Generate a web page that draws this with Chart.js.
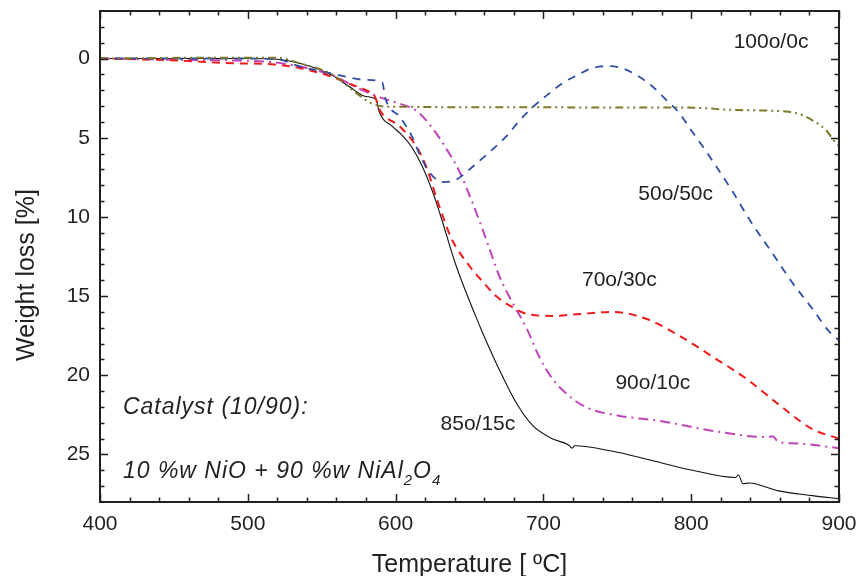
<!DOCTYPE html>
<html>
<head>
<meta charset="utf-8">
<title>TGA weight loss</title>
<script src="https://cdn.jsdelivr.net/npm/chart.js@4.4.0/dist/chart.umd.min.js"></script>
<style>
  html, body { margin: 0; padding: 0; background: #fff; }
  #wrap { width: 859px; height: 576px; }
</style>
</head>
<body>
<div id="wrap"><canvas id="tgaChart" width="859" height="576"></canvas></div>
<script>
'use strict';

// axis ticks
var tempTicks = [400, 500, 600, 700, 800, 900];
var lossTicks = [0, 5, 10, 15, 20, 25];

// 85o/15c
var temp85 = [400, 450, 500, 520, 535, 557, 569, 580, 587, 588.5, 598, 604, 611, 618, 625, 630, 641, 657, 664, 672, 682, 693, 706, 717, 719.5, 721, 747, 770, 801, 830, 832, 835, 839, 859, 882, 900];
var loss85 = [0, 0, 0, 0.05, 0.3, 1.05, 1.8, 2.4, 2.6, 3.25, 4.3, 4.8, 5.6, 6.8, 8.4, 9.8, 13.1, 16.9, 18.4, 20.0, 21.8, 23.2, 24.0, 24.4, 24.6, 24.45, 24.8, 25.3, 26.0, 26.45, 26.3, 26.85, 26.8, 27.3, 27.6, 27.8];

// 70o/30c
var temp70 = [400, 445, 490, 513, 535, 557, 569, 580, 586, 589, 603, 614, 621, 628, 638, 650, 659, 668, 679, 690, 706, 722, 747, 770, 792, 814, 837, 860, 882, 900];
var loss70 = [0, 0.1, 0.3, 0.35, 0.6, 1.15, 1.6, 2.0, 2.4, 3.2, 4.3, 5.55, 6.9, 8.9, 11.4, 13.1, 14.1, 15.0, 15.7, 16.15, 16.25, 16.15, 16.0, 16.45, 17.5, 18.8, 20.2, 21.9, 23.4, 24.0];

// 50o/50c
var temp50 = [400, 450, 500, 520, 535, 557, 580, 591, 593, 603, 611, 616, 623, 632, 641, 650, 663, 675, 684, 693, 704, 713, 724, 733, 745, 753, 763, 773, 783, 792, 799, 807, 814, 828, 841, 855, 868, 882, 893, 900];
var loss50 = [0, 0, 0, 0.05, 0.5, 0.95, 1.35, 1.5, 2.5, 3.7, 4.9, 6.0, 7.2, 7.8, 7.65, 7.0, 5.95, 4.9, 3.9, 3.05, 2.2, 1.55, 1.0, 0.6, 0.48, 0.6, 1.05, 1.7, 2.6, 3.45, 4.4, 5.45, 6.4, 8.4, 10.4, 12.3, 14.1, 15.8, 17.2, 17.8];

// 90o/10c
var temp90 = [400, 468, 513, 535, 557, 574, 591, 601, 614, 625, 635, 643, 652, 662, 670, 679, 689, 697, 706, 720, 731, 751, 780, 814, 851, 855, 859, 871, 900];
var loss90 = [0, 0.1, 0.2, 0.5, 1.05, 1.85, 2.5, 2.8, 3.3, 4.4, 5.8, 7.1, 9.1, 11.6, 13.7, 15.4, 17.1, 18.8, 20.2, 21.5, 22.1, 22.55, 22.9, 23.5, 23.9, 23.85, 24.2, 24.3, 24.6];

// 100o/0c
var temp100 = [400, 480, 520, 535, 557, 571, 578, 584, 596, 603, 650, 700, 750, 797, 830, 864, 873, 882, 891, 898, 900];
var loss100 = [0, -0.05, -0.05, 0.3, 1.0, 2.0, 2.5, 2.85, 3.05, 3.05, 3.08, 3.08, 3.1, 3.1, 3.25, 3.35, 3.5, 3.9, 4.5, 5.35, 5.5];

// curve names and where they sit on the chart
var seriesNames = ['100o/0c', '50o/50c', '70o/30c', '90o/10c', '85o/15c'];
var nameTemps = [854, 789.5, 751.4, 774, 655.7];
var nameLoss = [-1.0, 8.57, 14.0, 20.5, 23.1];

function pts(t, w) {
  return t.map(function(v, i) { return {x: v, y: w[i]}; });
}

function curve(label, t, w, color, width, dash) {
  return {
    label: label,
    data: pts(t, w),
    borderColor: color,
    borderWidth: width,
    borderDash: dash,
    pointRadius: 0,
    fill: false,
    cubicInterpolationMode: 'monotone'
  };
}

var FONT = '"Liberation Sans", Arial, Helvetica, sans-serif';
var INK = '#231f20';

// box round the plot with inward ticks on all four sides
var framePlugin = {
  id: 'frame',
  afterDatasetsDraw: function(chart) {
    var ctx = chart.ctx, a = chart.chartArea;
    var xs = chart.scales.x, ys = chart.scales.y;
    ctx.save();
    ctx.strokeStyle = INK;
    ctx.lineWidth = 1.5;
    var v, p, len;
    ctx.beginPath();
    for (v = 400; v <= 900; v += 20) {
      p = Math.round(xs.getPixelForValue(v)) + 0.5;
      len = (v % 100 === 0) ? 8 : 4.5;
      ctx.moveTo(p, a.bottom); ctx.lineTo(p, a.bottom - len);
      ctx.moveTo(p, a.top); ctx.lineTo(p, a.top + len);
    }
    for (v = -2; v <= 27; v += 1) {
      p = Math.round(ys.getPixelForValue(v)) + 0.5;
      len = (v % 5 === 0) ? 8 : 4.5;
      ctx.moveTo(a.left, p); ctx.lineTo(a.left + len, p);
      ctx.moveTo(a.right, p); ctx.lineTo(a.right - len, p);
    }
    ctx.stroke();
    ctx.lineWidth = 2;
    ctx.strokeRect(a.left, a.top, a.right - a.left, a.bottom - a.top);
    ctx.restore();
  }
};

// axis titles, curve names and the catalyst note
var textPlugin = {
  id: 'texts',
  afterDraw: function(chart) {
    var ctx = chart.ctx, a = chart.chartArea;
    var xs = chart.scales.x, ys = chart.scales.y;
    ctx.save();
    ctx.fillStyle = INK;

    ctx.font = '25px ' + FONT;
    ctx.textAlign = 'center';
    ctx.textBaseline = 'alphabetic';
    ctx.fillText('Temperature [ \u00baC]', (a.left + a.right) / 2, a.bottom + 70);

    ctx.save();
    ctx.translate(34, a.top + 264);
    ctx.rotate(-Math.PI / 2);
    ctx.fillText('Weight loss [%]', 0, 0);
    ctx.restore();

    ctx.font = '21px ' + FONT;
    ctx.textBaseline = 'middle';
    seriesNames.forEach(function(name, i) {
      ctx.fillText(name, xs.getPixelForValue(nameTemps[i]), ys.getPixelForValue(nameLoss[i]));
    });

    ctx.textAlign = 'left';
    ctx.textBaseline = 'alphabetic';
    ctx.letterSpacing = '1px';
    ctx.font = 'italic 23px ' + FONT;
    var x0 = xs.getPixelForValue(415.5);
    ctx.fillText('Catalyst (10/90):', x0, ys.getPixelForValue(22.45));

    var base = ys.getPixelForValue(26.5);
    var parts = [['10 %w NiO + 90 %w NiAl', 0], ['2', 1], ['O', 0], ['4', 1]];
    var x = x0;
    parts.forEach(function(pt) {
      ctx.font = pt[1] ? 'italic 15px ' + FONT : 'italic 23px ' + FONT;
      ctx.fillText(pt[0], x, base + (pt[1] ? 7 : 0));
      x += ctx.measureText(pt[0]).width;
    });
    ctx.restore();
  }
};

// drop the label overhang so the plot box keeps the size set by layout padding
function noOverhang(s) {
  s.paddingTop = 0;
  s.paddingBottom = 0;
  s.paddingLeft = 0;
  s.paddingRight = 0;
}

var ctx = document.getElementById('tgaChart');
new Chart(ctx, {
  type: 'line',
  data: {
    datasets: [
      curve('100o/0c', temp100, loss100, '#7d7a2a', 2, [8, 4, 2, 4, 2, 4]),
      curve('50o/50c', temp50, loss50, '#2f4fa6', 1.8, [8, 7]),
      curve('70o/30c', temp70, loss70, '#f01a1a', 2, [8, 6]),
      curve('90o/10c', temp90, loss90, '#c043b8', 2, [10, 5, 2, 5]),
      curve('85o/15c', temp85, loss85, '#111111', 1.1, [])
    ]
  },
  options: {
    responsive: false,
    animation: false,
    layout: { padding: { top: 11, right: 20, left: 0, bottom: 0 } },
    plugins: {
      legend: { display: false },
      tooltip: { enabled: false }
    },
    scales: {
      x: {
        type: 'linear',
        min: 400,
        max: 900,
        grid: { display: false, drawTicks: false },
        border: { display: false },
        ticks: { padding: 10, color: INK, font: { family: FONT, size: 21 } },
        afterBuildTicks: function(s) { s.ticks = tempTicks.map(function(v) { return {value: v}; }); },
        afterFit: function(s) { s.height = 74; noOverhang(s); }
      },
      y: {
        type: 'linear',
        reverse: true,
        min: -3,
        max: 28,
        grid: { display: false, drawTicks: false },
        border: { display: false },
        ticks: { padding: 10, color: INK, font: { family: FONT, size: 21 } },
        afterBuildTicks: function(s) { s.ticks = lossTicks.map(function(v) { return {value: v}; }); },
        afterFit: function(s) { s.width = 100; noOverhang(s); }
      }
    }
  },
  plugins: [framePlugin, textPlugin]
});
</script>
</body>
</html>
